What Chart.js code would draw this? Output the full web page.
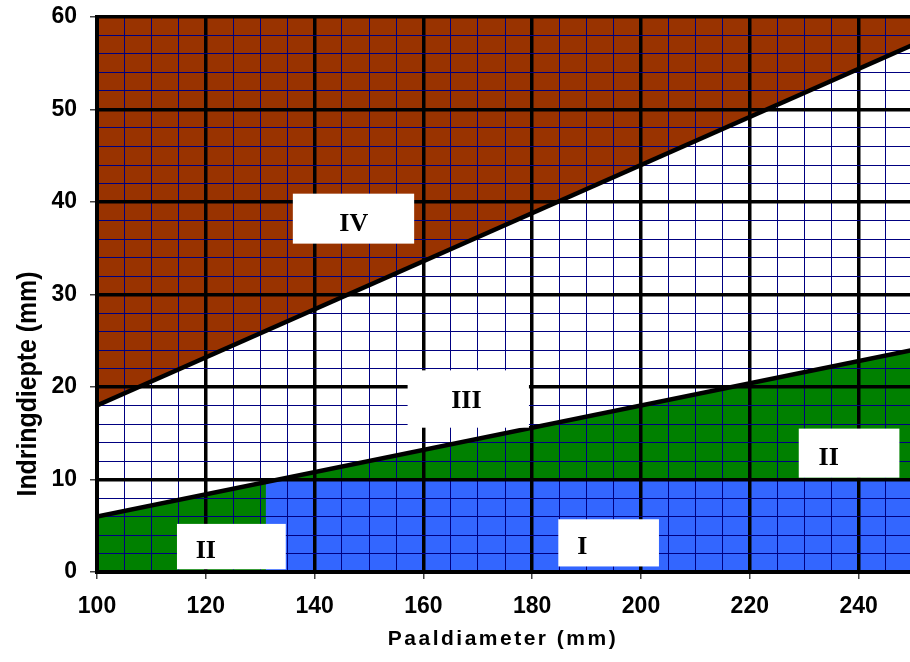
<!DOCTYPE html>
<html>
<head>
<meta charset="utf-8">
<script src="https://cdn.jsdelivr.net/npm/chart.js@4"></script>
<style>
  html, body { margin: 0; padding: 0; overflow: hidden; background: #fff; }
  .chart { width: 920px; height: 662px; position: relative; }
</style>
</head>
<body>
<div class="chart"><canvas></canvas></div>
<script>
// pile diameter (mm) at the two ends of each boundary
const diameters = [100, 250];
// boundary between zone III and IV (mm)
const upperBoundary = [18, 57];
// boundary between zone II and III (mm)
const lowerBoundary = [6, 24];
// zone I: from 131 mm diameter, up to 10 mm depth
const zoneIDiameters = [131, 250];
const zoneIDepth = [10, 10];

const xTicksMajor = 20;
const yTicksMajor = 10;

// zone labels: name, text anchor and white box, all in data units
const zoneNames = ['IV', 'III', 'II', 'II', 'I'];
const zoneTextAt = [[147.2, 37.6], [167.9, 18.5], [120.0, 2.2], [234.5, 12.3], [189.2, 2.7]];
const zoneBoxes = [
  [136.0, 158.3, 35.5, 40.9],
  [157.1, 179.4, 15.6, 21.8],
  [114.7, 134.7, 0.3, 5.2],
  [229.0, 247.5, 10.2, 15.5],
  [184.8, 203.3, 0.6, 5.7],
];

const pts = (xs, ys) => xs.map((x, i) => ({ x, y: ys[i] }));

const zoneLabels = {
  id: 'zoneLabels',
  afterDraw(chart) {
    const { ctx, scales: { x, y } } = chart;
    ctx.save();
    zoneNames.forEach((name, i) => {
      const [x1, x2, y1, y2] = zoneBoxes[i];
      const l = x.getPixelForValue(x1), r = x.getPixelForValue(x2);
      const t = y.getPixelForValue(y2), b = y.getPixelForValue(y1);
      ctx.fillStyle = '#fff';
      ctx.fillRect(l, t, r - l, b - t);
      ctx.fillStyle = '#000';
      ctx.font = 'bold 26px "Liberation Serif", "Times New Roman", serif';
      ctx.textAlign = 'center';
      ctx.textBaseline = 'middle';
      ctx.fillText(name, x.getPixelForValue(zoneTextAt[i][0]), y.getPixelForValue(zoneTextAt[i][1]));
    });
    ctx.restore();
  }
};

const axisTitles = {
  id: 'axisTitles',
  afterDraw(chart) {
    const { ctx, chartArea } = chart;
    ctx.save();
    ctx.fillStyle = '#000';
    ctx.font = 'bold 21px "Liberation Sans", Arial, sans-serif';
    ctx.letterSpacing = '2.5px';
    ctx.textAlign = 'center';
    ctx.textBaseline = 'alphabetic';
    ctx.fillText('Paaldiameter (mm)', (chartArea.left + chartArea.right) / 2 - 2, chartArea.bottom + 73);
    // y title: tall glyphs, squeezed along the text
    ctx.letterSpacing = '0px';
    ctx.font = 'bold 27px "Liberation Sans", Arial, sans-serif';
    ctx.translate(36, 384);
    ctx.rotate(-Math.PI / 2);
    ctx.scale(0.92, 1);
    ctx.fillText('Indringdiepte (mm)', 0, 0);
    ctx.restore();
  }
};

const tickFont = { family: '"Liberation Sans", Arial, sans-serif', size: 23, weight: 'bold' };

// keep the label overhang from moving the plot edges
const noOverhang = s => {
  s.paddingTop = 0; s.paddingBottom = 0; s.paddingLeft = 0; s.paddingRight = 0;
};

new Chart(document.querySelector('canvas'), {
  type: 'line',
  data: {
    datasets: [
      {
        label: 'I',
        data: pts(zoneIDiameters, zoneIDepth),
        fill: 'origin',
        backgroundColor: '#3366ff',
        borderWidth: 0,
        pointRadius: 0,
        order: 1,
      },
      {
        label: 'II/III',
        data: pts(diameters, lowerBoundary),
        fill: 'origin',
        backgroundColor: '#008000',
        borderColor: '#000',
        borderWidth: 4.5,
        pointRadius: 0,
        order: 2,
      },
      {
        label: 'III/IV',
        data: pts(diameters, upperBoundary),
        fill: 'end',
        backgroundColor: '#993300',
        borderColor: '#000',
        borderWidth: 4.5,
        pointRadius: 0,
        order: 3,
      },
    ]
  },
  options: {
    responsive: true,
    maintainAspectRatio: false,
    animation: false,
    layout: { padding: { top: 17, right: 7, left: 0, bottom: 0 } },
    plugins: {
      legend: { display: false },
      tooltip: { enabled: false },
      filler: { drawTime: 'beforeDraw' },
    },
    scales: {
      x: {
        type: 'linear',
        min: 100,
        max: 250,
        afterFit: s => { s.height = 90; noOverhang(s); },
        ticks: {
          stepSize: 5,
          autoSkip: false,
          maxRotation: 0,
          padding: 14,
          color: '#000',
          font: tickFont,
          callback: v => (v % xTicksMajor === 0 ? v : ''),
        },
        grid: {
          color: c => (c.tick && c.tick.value % xTicksMajor === 0 ? '#000' : '#000080'),
          lineWidth: c => (c.tick && c.tick.value % xTicksMajor === 0 ? 3.5 : 1),
          tickColor: c => (c.tick && c.tick.value % xTicksMajor === 0 ? '#444' : 'rgba(0,0,0,0)'),
          tickWidth: 1.5,
          tickLength: 7,
        },
        border: { display: true, color: '#000', width: 4 },
      },
      y: {
        min: 0,
        max: 60,
        afterFit: s => { s.width = 97; noOverhang(s); },
        ticks: {
          stepSize: 2,
          autoSkip: false,
          padding: 13,
          color: '#000',
          font: tickFont,
          callback: v => (v % yTicksMajor === 0 ? v : ''),
        },
        grid: {
          color: c => (c.tick && c.tick.value % yTicksMajor === 0 ? '#000' : '#000080'),
          lineWidth: c => (c.tick && c.tick.value % yTicksMajor === 0 ? 3.5 : 1),
          tickColor: c => (c.tick && c.tick.value % yTicksMajor === 0 ? '#444' : 'rgba(0,0,0,0)'),
          tickWidth: 1.5,
          tickLength: 7,
        },
        border: { display: true, color: '#000', width: 4 },
      },
    }
  },
  plugins: [zoneLabels, axisTitles]
});
</script>
</body>
</html>
